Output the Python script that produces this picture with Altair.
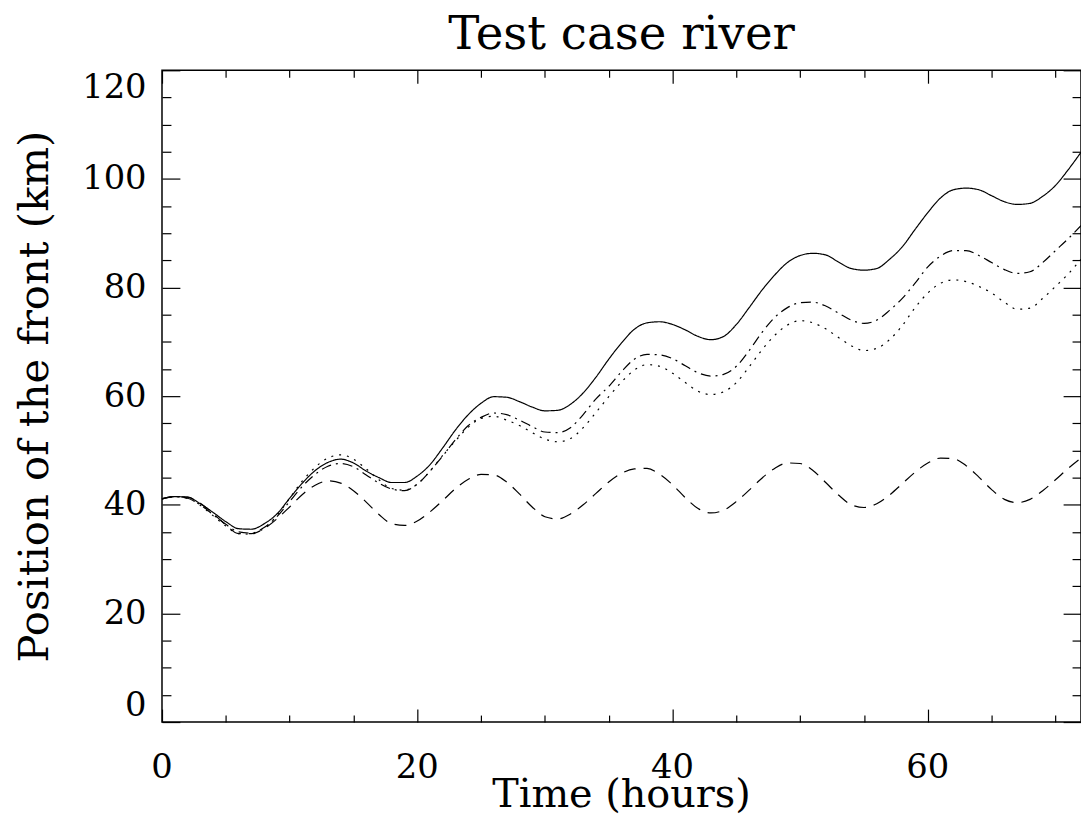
import altair as alt
import pandas as pd

# ---- data ----
hours = list(range(73))

solid = [41.1, 41.5, 41.4, 40.2, 38.6, 36.9, 35.6, 35.5, 36.5, 38.3,
         41.2, 44.0, 46.3, 47.8, 48.4, 47.7, 46.2, 45.0, 44.1, 44.1,
         45.3, 47.4, 50.5, 53.8, 56.6, 58.7, 59.9, 59.8, 59.0, 58.0,
         57.3, 57.4, 58.5, 60.6, 63.5, 66.8, 69.8, 72.3, 73.5, 73.7,
         73.2, 72.2, 71.0, 70.4, 71.0, 73.2, 76.3, 79.5, 82.3, 84.6,
         85.9, 86.3, 86.0, 84.7, 83.5, 83.2, 83.5, 85.2, 87.5, 90.7,
         93.8, 96.5, 98.0, 98.3, 98.0, 96.9, 95.8, 95.3, 95.5, 96.8,
         98.8, 101.7, 104.9]

dashdot = [41.1, 41.5, 41.2, 40.0, 38.2, 36.4, 35.0, 34.8, 35.8, 37.8,
           40.6, 43.4, 45.6, 47.1, 47.6, 47.0, 45.5, 44.0, 42.9, 42.6,
           43.8, 46.2, 49.0, 52.0, 54.6, 56.1, 56.9, 56.6, 55.6, 54.4,
           53.4, 53.3, 54.2, 56.6, 59.5, 61.8, 64.5, 66.8, 67.7, 67.6,
           66.9, 65.6, 64.3, 63.7, 64.0, 65.5, 68.4, 71.7, 74.5, 76.3,
           77.2, 77.3, 76.6, 75.3, 74.0, 73.4, 74.0, 75.8, 78.0, 80.8,
           83.8, 85.8, 86.8, 86.8, 85.9, 84.6, 83.3, 82.6, 82.9, 84.6,
           86.8, 89.0, 91.4]

dotted = [41.1, 41.5, 41.2, 39.9, 38.0, 36.1, 34.7, 34.6, 35.7, 38.0,
          41.2, 44.4, 46.9, 48.6, 49.2, 48.4, 46.6, 44.6, 43.0, 42.7,
          43.8, 46.2, 49.1, 51.8, 54.3, 55.9, 56.3, 55.6, 54.6, 53.3,
          52.1, 51.6, 52.2, 54.2, 57.0, 59.9, 62.6, 64.8, 65.8, 65.5,
          64.2, 62.5, 60.9, 60.3, 60.8, 62.5, 65.4, 68.5, 71.2, 73.1,
          73.9, 73.5, 72.4, 70.8, 69.3, 68.4, 68.8, 70.4, 73.0, 76.3,
          79.0, 80.8, 81.4, 81.1, 80.2, 79.0, 77.3, 76.0, 76.2, 78.0,
          80.2, 82.5, 85.2]

dashed = [41.1, 41.5, 41.4, 40.3, 38.4, 36.3, 34.7, 34.7, 35.6, 37.4,
          39.6, 41.9, 43.6, 44.4, 44.0, 42.6, 40.5, 38.2, 36.5, 36.2,
          37.0, 38.7, 40.8, 43.0, 44.7, 45.6, 45.5, 44.2, 42.0, 39.6,
          37.8, 37.4, 38.3, 40.0, 42.1, 44.2, 45.8, 46.6, 46.7, 45.6,
          43.7, 41.3, 39.3, 38.5, 39.0, 40.6, 42.7, 44.9, 46.7, 47.7,
          47.6, 46.3, 44.1, 41.8, 40.0, 39.5, 40.2, 41.8, 43.9, 46.0,
          47.7, 48.6, 48.5, 47.2, 45.1, 42.8, 41.0, 40.4, 41.0, 42.6,
          44.6, 46.7, 48.6]

series_names = ["solid", "dash-dot", "dotted", "dashed"]
x_major = [0, 20, 40, 60]
x_major_labels = ["0", "20", "40", "60"]
x_minor = [5, 10, 15, 25, 30, 35, 45, 50, 55, 65, 70]
y_major = [0, 20, 40, 60, 80, 100, 120]
y_minor = [5, 10, 15, 25, 30, 35, 45, 50, 55, 65, 70, 75, 85, 90, 95, 105, 110, 115]
title_text = ["Test case river"]
x_title_text = ["Time (hours)"]

df = pd.DataFrame({
    "t": hours * 4,
    "value": solid + dashdot + dotted + dashed,
    "series": sum([[n] * len(hours) for n in series_names], []),
})

FONT = "DejaVu Serif"
W, H = 925, 656
xscale = alt.Scale(domain=[0, 72], nice=False, zero=False)
yscale = alt.Scale(domain=[0, 120], nice=False, zero=False)

lines = alt.Chart(df).mark_line(color="black", strokeWidth=1.2, interpolate="monotone").encode(
    x=alt.X("t:Q", scale=xscale, axis=None),
    y=alt.Y("value:Q", scale=yscale, title="Position of the front (km)",
            axis=alt.Axis(orient="left", values=y_major, ticks=False, tickSize=0, domain=False,
                          grid=False, labelFont=FONT, labelFontSize=34, labelColor="black",
                          labelPadding=16, labelFlush=True,
                          titleFont=FONT, titleFontSize=42, titleFontWeight="normal",
                          titleColor="black", titlePadding=25)),
    strokeDash=alt.StrokeDash("series:N",
                              scale=alt.Scale(domain=series_names,
                                              range=[[1, 0], [10, 5, 2, 5], [2, 6], [12, 8]]),
                              legend=None),
)


def tick_layer(xo, yo, xv, yv, xl, yl):
    return alt.Chart(df).mark_point(opacity=0, size=1).encode(
        x=alt.X("t:Q", scale=xscale, title=None,
                axis=alt.Axis(orient=xo, values=xv, labels=False, domain=False, grid=False,
                              ticks=True, tickSize=xl, offset=-xl, tickColor="black",
                              tickWidth=1.2)),
        y=alt.Y("value:Q", scale=yscale, title=None,
                axis=alt.Axis(orient=yo, values=yv, labels=False, domain=False, grid=False,
                              ticks=True, tickSize=yl, offset=-yl, tickColor="black",
                              tickWidth=1.2)),
    )


# x tick labels, placed through the shared x scale
x_labels = alt.Chart(pd.DataFrame({"t": x_major, "lab": x_major_labels})).mark_text(
    font=FONT, fontSize=34, baseline="alphabetic", align="center", color="black"
).encode(x=alt.X("t:Q", scale=xscale, axis=None), y=alt.value(H + 56), text="lab:N")

x_title = alt.Chart(pd.DataFrame({"label": x_title_text})).mark_text(
    font=FONT, fontSize=40, baseline="alphabetic", align="center", color="black"
).encode(text="label:N", x=alt.value(W / 2), y=alt.value(H + 86))

title_layer = alt.Chart(pd.DataFrame({"label": title_text})).mark_text(
    font=FONT, fontSize=47, baseline="alphabetic", align="center", color="black"
).encode(text="label:N", x=alt.value(W / 2), y=alt.value(-21))

chart = alt.layer(
    tick_layer("bottom", "left", x_major, y_major, 13, 18),
    tick_layer("bottom", "left", x_minor, y_minor, 7, 9),
    tick_layer("top", "right", x_major, y_major, 13, 18),
    tick_layer("top", "right", x_minor, y_minor, 7, 9),
    lines,
    x_labels,
    x_title,
    title_layer,
).properties(
    width=W,
    height=H,
    autosize=alt.AutoSizeParams(type="none"),
    padding={"left": 155, "top": 60, "right": 0, "bottom": 110},
).configure_view(stroke="black", strokeWidth=1.5)

chart.save("out.html", embed_options={"renderer": "svg", "actions": False})
